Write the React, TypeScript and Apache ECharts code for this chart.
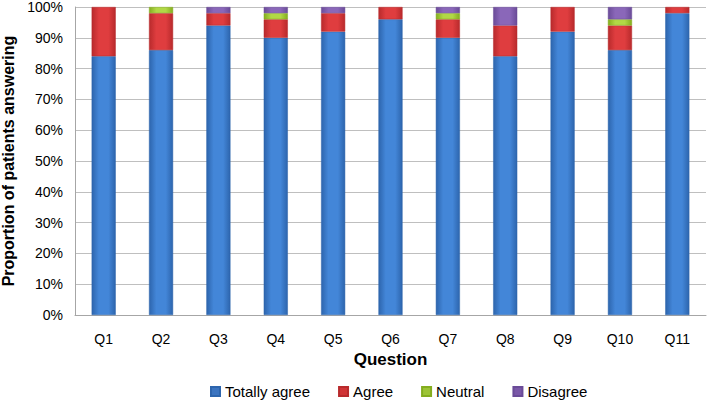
import React, { useEffect, useRef } from "react";
import * as echarts from "echarts";

const categories = ["Q1", "Q2", "Q3", "Q4", "Q5", "Q6", "Q7", "Q8", "Q9", "Q10", "Q11"];
const totallyAgree = [84, 86, 94, 90, 92, 96, 90, 84, 92, 86, 98];
const agree = [16, 12, 4, 6, 6, 4, 6, 10, 8, 8, 2];
const neutral = [0, 2, 0, 2, 0, 0, 2, 0, 0, 2, 0];
const disagree = [0, 0, 2, 2, 2, 0, 2, 6, 0, 4, 0];
const yTicks = [0, 10, 20, 30, 40, 50, 60, 70, 80, 90, 100];

const FONT = "Liberation Sans";

function grad(edge: string, mid: string) {
  return new echarts.graphic.LinearGradient(0, 0, 1, 0, [
    { offset: 0, color: edge },
    { offset: 0.3, color: mid },
    { offset: 0.7, color: mid },
    { offset: 1, color: edge },
  ]);
}

export default function App() {
  const ref = useRef<HTMLDivElement>(null);
  useEffect(() => {
    if (!ref.current) return;
    const chart = echarts.init(ref.current, undefined, { renderer: "svg" });
    const defs = [
      { name: "Totally agree", data: totallyAgree, edge: "#2d65ad", mid: "#4386d8", lc: "#3b74c0" },
      { name: "Agree", data: agree, edge: "#b82a2c", mid: "#df3d3f", lc: "#d03436" },
      { name: "Neutral", data: neutral, edge: "#84ad1f", mid: "#b1d846", lc: "#9cc436" },
      { name: "Disagree", data: disagree, edge: "#6a4b98", mid: "#8a67b9", lc: "#7a58a8" },
    ];
    chart.setOption({
      animation: false,
      grid: { left: 75, right: 2, top: 7, bottom: 90, outerBoundsMode: "none" },
      legend: {
        bottom: 1,
        left: 205,
        icon: "rect",
        itemWidth: 9,
        itemHeight: 9,
        itemGap: 28,
        textStyle: { fontFamily: FONT, fontSize: 15, color: "#000" },
        data: defs.map((d) => ({ name: d.name, itemStyle: { color: d.lc } })),
      },
      xAxis: {
        type: "category",
        data: categories,
        name: "Question",
        nameLocation: "middle",
        nameGap: 34,
        nameTextStyle: { fontFamily: FONT, fontSize: 17, fontWeight: "bold", color: "#000" },
        axisLine: { lineStyle: { color: "#a6a6a6" } },
        axisTick: { show: false },
        axisLabel: { fontFamily: FONT, fontSize: 14, color: "#000", margin: 17 },
      },
      yAxis: {
        type: "value",
        min: 0,
        max: 100,
        interval: 10,
        name: "Proportion of patients answering",
        nameLocation: "middle",
        nameGap: 52,
        nameTextStyle: { fontFamily: FONT, fontSize: 16, fontWeight: "bold", color: "#000" },
        axisLine: { show: true, lineStyle: { color: "#a6a6a6" } },
        axisTick: { show: false },
        splitLine: { lineStyle: { color: "#bfbfbf" } },
        axisLabel: {
          fontFamily: FONT,
          fontSize: 14,
          color: "#000",
          margin: 12,
          formatter: (v: number) => (yTicks.includes(v) ? v + "%" : ""),
        },
      },
      series: defs.map((d) => ({
        name: d.name,
        type: "bar",
        stack: "total",
        data: d.data.map((v) => (v === 0 ? null : v)),
        barWidth: "42%",
        itemStyle: { color: grad(d.edge, d.mid), borderColor: d.edge, borderWidth: 0.5 },
        emphasis: { disabled: true },
      })),
    });
    return () => chart.dispose();
  }, []);
  return (
    <div
      ref={ref}
      style={{ position: "fixed", left: 0, top: 0, width: 708, height: 405, background: "#fff" }}
    />
  );
}
